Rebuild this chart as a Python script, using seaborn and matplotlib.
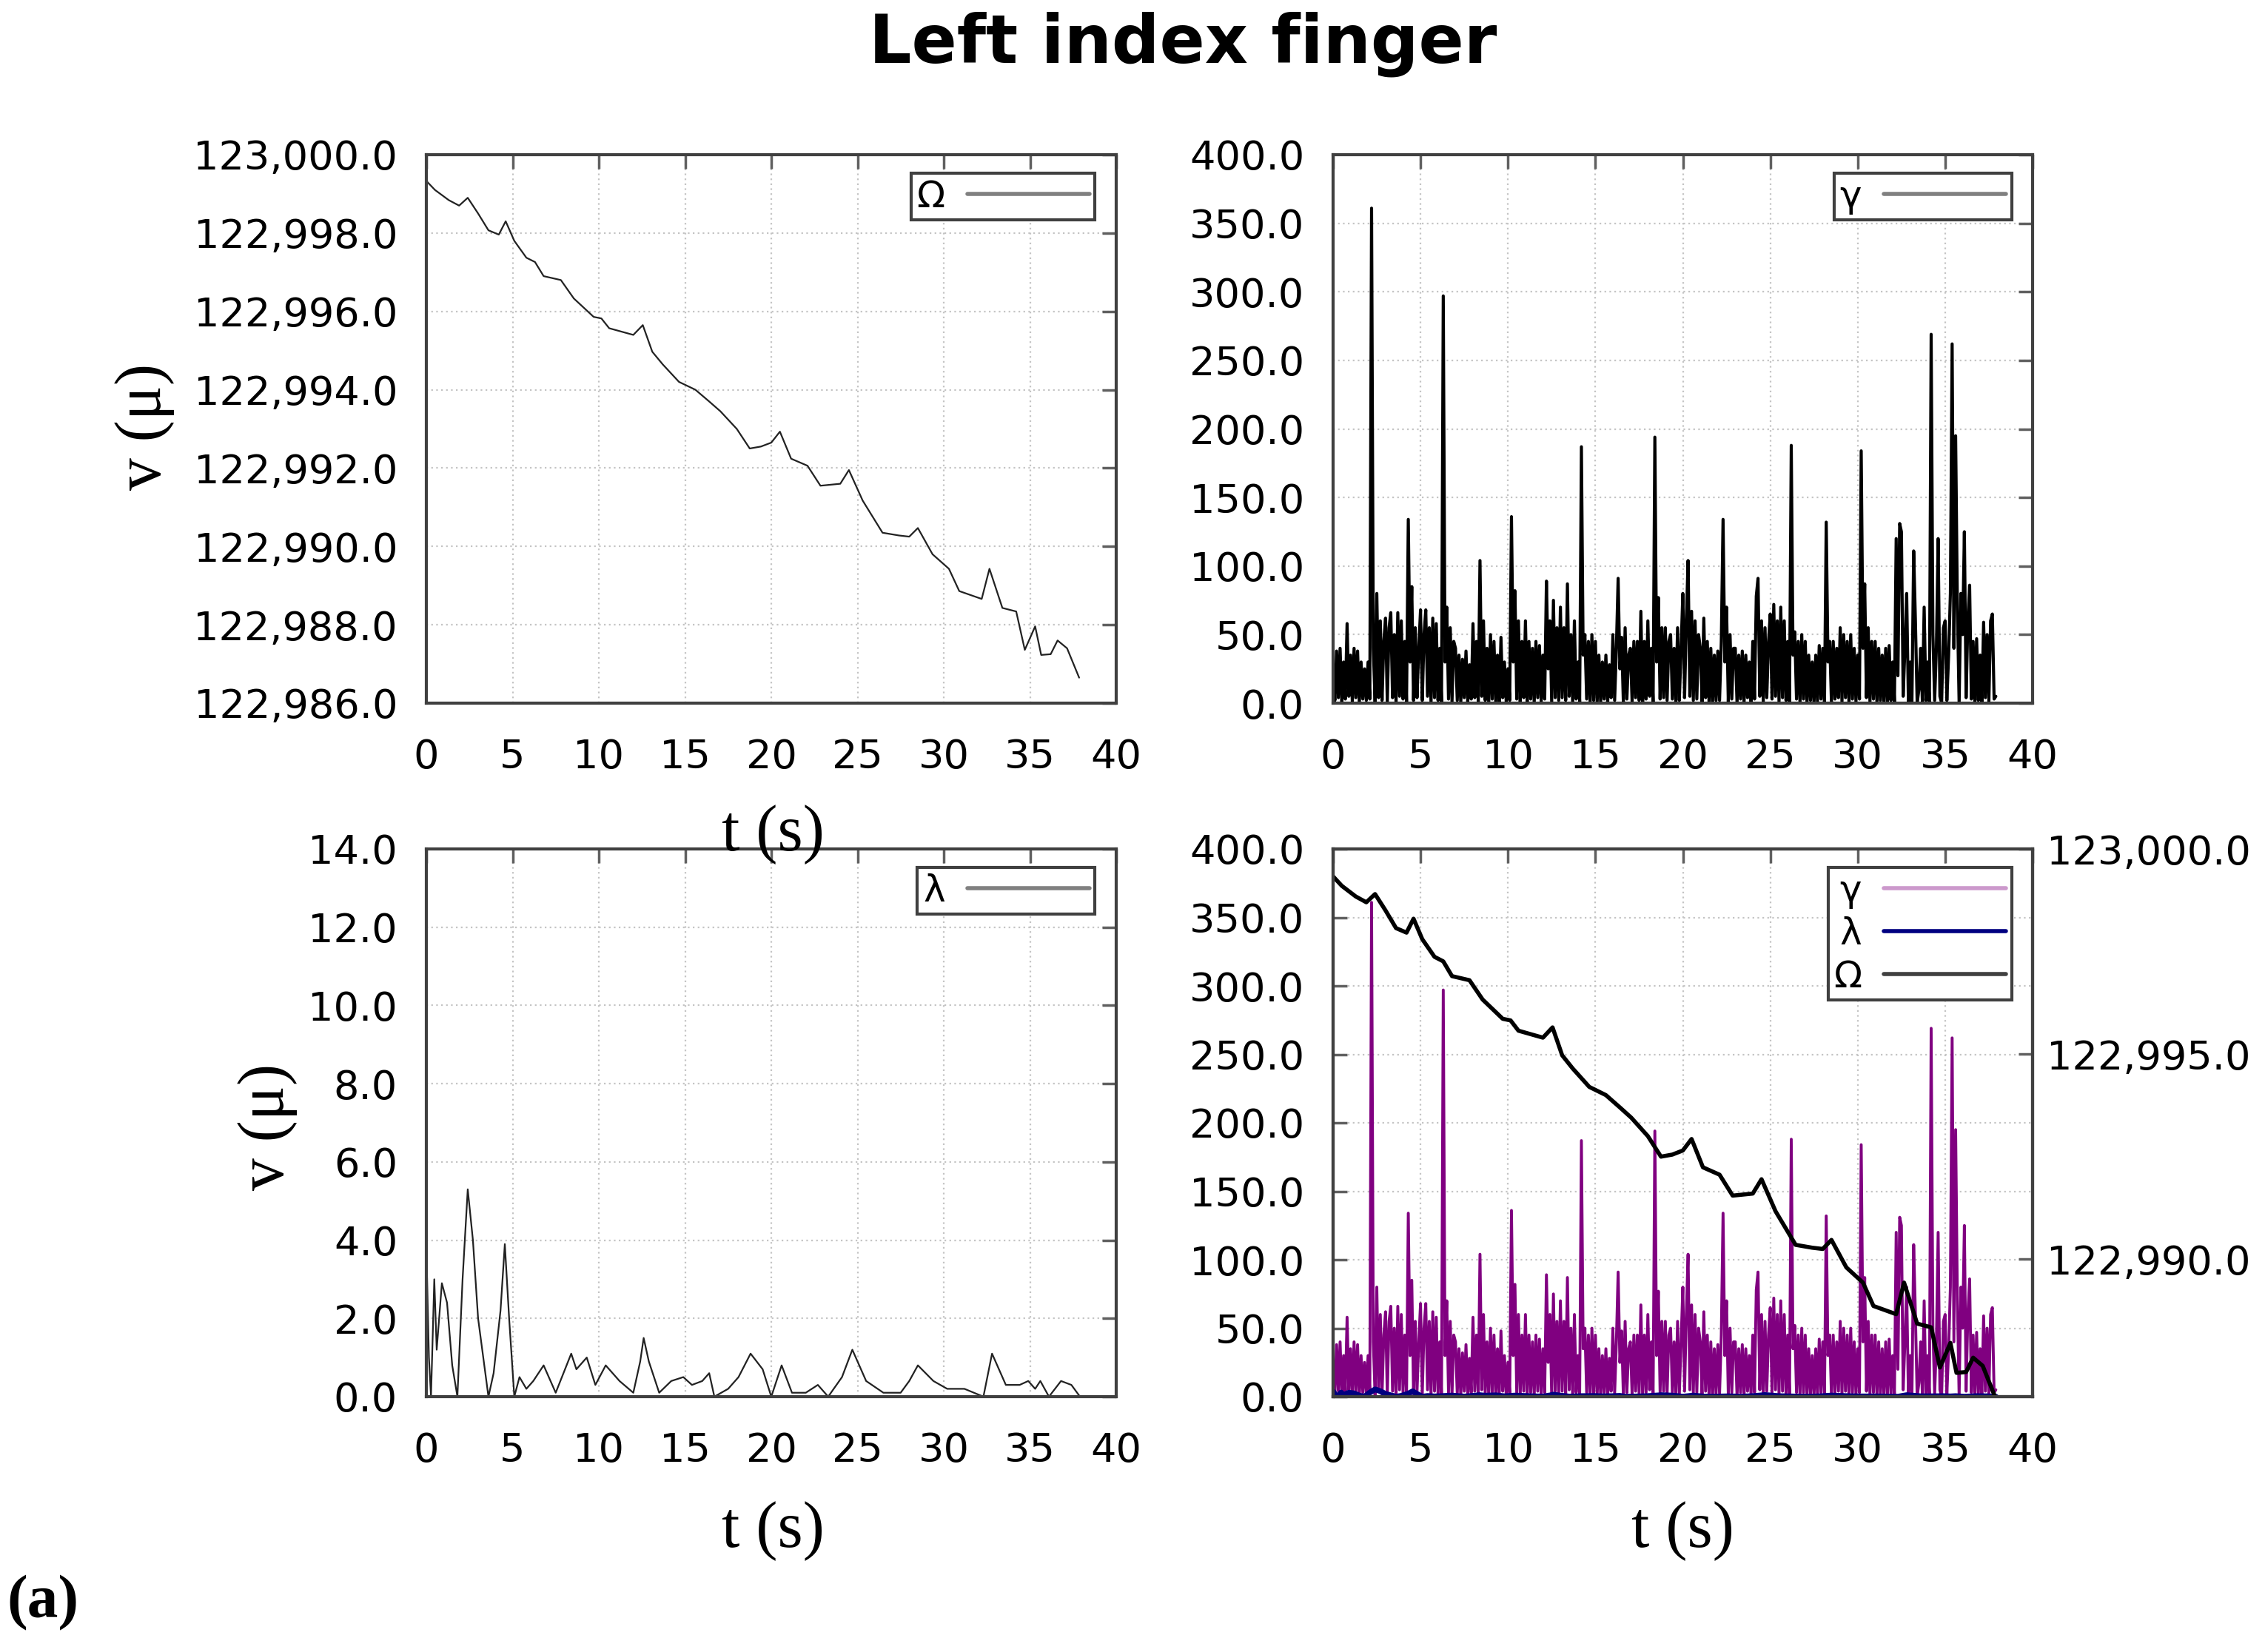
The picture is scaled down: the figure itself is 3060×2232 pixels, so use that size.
import numpy as np
import matplotlib
matplotlib.use("Agg")
import matplotlib.pyplot as plt
from matplotlib.lines import Line2D
from matplotlib.ticker import FuncFormatter
import seaborn as sns

# Omega (top-left / right axis of bottom-right)
omega_t = [0.0, 0.5, 1.3, 1.9, 2.4, 3.0, 3.6, 4.2, 4.6, 5.1, 5.8, 6.3, 6.8, 7.8, 8.55,
           9.7, 10.15, 10.6, 12.0, 12.55, 13.1, 13.7, 14.65, 15.6, 16.4, 17.05, 18.0,
           18.75, 19.4, 20.0, 20.5, 21.15, 22.1, 22.85, 24.0, 24.5, 25.3, 26.45, 27.4,
           28.0, 28.5, 29.35, 30.3, 30.9, 32.2, 32.65, 33.4, 34.2, 34.7, 35.3, 35.65,
           36.2, 36.6, 37.15, 37.85]
omega_v = [122999.33, 122999.1, 122998.84, 122998.7, 122998.9, 122998.5, 122998.07,
           122997.96, 122998.3, 122997.8, 122997.37, 122997.26, 122996.9, 122996.8,
           122996.33, 122995.86, 122995.82, 122995.57, 122995.4, 122995.65, 122994.97,
           122994.65, 122994.2, 122994.0, 122993.7, 122993.45, 122993.0, 122992.5,
           122992.55, 122992.65, 122992.93, 122992.24, 122992.06, 122991.55, 122991.6,
           122991.95, 122991.17, 122990.35, 122990.28, 122990.25, 122990.47, 122989.8,
           122989.43, 122988.86, 122988.66, 122989.43, 122988.43, 122988.34, 122987.36,
           122987.96, 122987.23, 122987.25, 122987.6, 122987.4, 122986.65]

# gamma sampled every 0.1 s (one row per second)
gamma_t = np.round(np.arange(0, 37.95, 0.1), 1)
gamma_v = [25, 2, 38, 4, 40, 0, 30, 3, 58, 5,
           35, 1, 40, 4, 38, 0, 30, 3, 25, 2,
           30, 3, 361, 40, 1, 80, 4, 60, 2, 45,
           62, 1, 55, 66, 4, 50, 0, 66, 5, 60,
           3, 45, 1, 134, 30, 85, 2, 55, 4, 40,
           68, 2, 50, 68, 5, 55, 0, 62, 4, 58,
           2, 40, 0, 297, 30, 70, 3, 55, 1, 45,
           40, 2, 35, 0, 32, 4, 38, 1, 28, 3,
           58, 4, 45, 1, 104, 5, 60, 2, 40, 0,
           50, 3, 45, 1, 35, 0, 48, 4, 30, 1,
           25, 2, 136, 30, 82, 3, 60, 1, 45, 4,
           60, 0, 45, 3, 40, 0, 45, 4, 42, 1,
           35, 3, 89, 25, 60, 1, 75, 4, 55, 2,
           70, 4, 55, 2, 87, 5, 50, 0, 60, 3,
           30, 1, 187, 35, 50, 3, 45, 0, 50, 2,
           45, 1, 35, 0, 30, 3, 35, 0, 28, 4,
           50, 2, 40, 91, 25, 48, 0, 55, 3, 35,
           40, 1, 45, 4, 45, 2, 67, 0, 45, 3,
           60, 5, 40, 1, 194, 30, 77, 3, 55, 4,
           55, 2, 45, 50, 3, 40, 0, 55, 2, 40,
           80, 4, 60, 104, 5, 67, 2, 60, 3, 50,
           40, 1, 62, 4, 45, 0, 40, 0, 35, 2,
           38, 2, 45, 134, 30, 70, 1, 50, 3, 40,
           40, 0, 35, 3, 38, 0, 35, 4, 30, 1,
           45, 3, 78, 91, 5, 60, 1, 55, 4, 45,
           65, 3, 72, 5, 60, 1, 70, 4, 60, 2,
           45, 1, 188, 35, 52, 3, 45, 0, 50, 3,
           45, 0, 35, 2, 30, 0, 35, 1, 42, 3,
           40, 1, 132, 30, 45, 0, 45, 3, 40, 4,
           55, 1, 50, 4, 45, 0, 50, 3, 40, 1,
           35, 3, 184, 40, 87, 4, 55, 1, 45, 3,
           45, 0, 40, 2, 35, 0, 40, 1, 42, 2,
           30, 1, 120, 20, 131, 125, 5, 40, 80, 0,
           30, 0, 111, 60, 0, 10, 40, 0, 70, 2,
           30, 0, 269, 50, 2, 40, 120, 5, 0, 55,
           60, 2, 35, 80, 262, 40, 195, 70, 0, 80,
           50, 125, 4, 60, 86, 3, 45, 0, 47, 2,
           35, 0, 59, 4, 50, 1, 60, 65, 3, 5]

# lambda
lam_t = [0.0, 0.15, 0.27, 0.46, 0.6, 0.9, 1.2, 1.5, 1.8, 2.1, 2.4, 2.7, 3.0, 3.6, 3.9,
         4.3, 4.55, 4.8, 5.1, 5.4, 5.8, 6.2, 6.8, 7.5, 8.4, 8.7, 9.3, 9.8, 10.4, 11.2,
         12.0, 12.4, 12.6, 12.9, 13.5, 14.2, 14.9, 15.4, 16.0, 16.4, 16.7, 17.5, 18.1,
         18.8, 19.5, 20.0, 20.6, 21.2, 22.0, 22.7, 23.3, 24.1, 24.7, 25.5, 26.5, 27.5,
         28.0, 28.5, 29.4, 30.2, 31.2, 32.3, 32.8, 33.6, 34.4, 34.9, 35.3, 35.6, 36.1,
         36.8, 37.4, 37.9]
lam_v = [3.8, 1.0, 0.0, 3.0, 1.2, 2.9, 2.4, 0.8, 0.0, 3.0, 5.3, 4.0, 2.0, 0.0, 0.6,
         2.2, 3.9, 2.0, 0.0, 0.5, 0.2, 0.4, 0.8, 0.1, 1.1, 0.7, 1.0, 0.3, 0.8, 0.4,
         0.1, 0.9, 1.5, 0.9, 0.1, 0.4, 0.5, 0.3, 0.4, 0.6, 0.0, 0.2, 0.5,
         1.1, 0.7, 0.0, 0.8, 0.1, 0.1, 0.3, 0.0, 0.5, 1.2, 0.4, 0.1, 0.1,
         0.4, 0.8, 0.4, 0.2, 0.2, 0.0, 1.1, 0.3, 0.3, 0.4, 0.2, 0.4, 0.0,
         0.4, 0.3, 0.0]

sns.set_style("white")
plt.rcParams["font.family"] = ["DejaVu Sans"]
plt.rcParams["text.color"] = "black"

W, H = 3060, 2232
fig = plt.figure(figsize=(W / 100, H / 100), dpi=100)

def box(x0, y0, x1, y1):
    return [x0 / W, 1 - y1 / H, (x1 - x0) / W, (y1 - y0) / H]

SPINE = "#404040"
TICK = 39
SERIF = ["Liberation Serif", "DejaVu Serif"]

def style(ax, yticks, fmt, right=True):
    ax.set_xlim(0, 40)
    ax.set_xticks(range(0, 41, 5))
    ax.set_yticks(yticks)
    ax.yaxis.set_major_formatter(FuncFormatter(lambda v, p: fmt.format(v)))
    for s in ax.spines.values():
        s.set_color(SPINE)
        s.set_linewidth(3)
    ax.tick_params(axis="both", direction="in", length=14, width=2.5, color="#606060",
                   labelsize=TICK, labelcolor="black", top=True, right=right)
    ax.tick_params(axis="x", pad=34)
    ax.tick_params(axis="y", pad=28)
    ax.grid(True, color="#c4c4c4", linestyle=(0, (1, 2)), linewidth=1.6)
    ax.set_xlabel("")
    ax.set_ylabel("")

def add_legend(ax, handles, labels, anchor, spacing=0.3):
    leg = ax.legend(handles, labels, loc="upper right", bbox_to_anchor=anchor,
                    markerfirst=False, frameon=True, fancybox=False, framealpha=1,
                    edgecolor=SPINE, fontsize=36, handlelength=3.3, borderpad=0.15,
                    borderaxespad=0, handletextpad=0.6, labelspacing=spacing)
    leg.get_frame().set_linewidth(3)

# top-left: Omega
ax1 = fig.add_axes(box(576, 209, 1508, 950))
sns.lineplot(x=omega_t, y=omega_v, ax=ax1, color="#222222", lw=1.6, sort=False)
ax1.set_ylim(122986, 123000)
style(ax1, np.arange(122986, 123000.1, 2), "{:,.1f}")
add_legend(ax1, [Line2D([], [], color="#808080", lw=4)], ["Ω"], (0.969, 0.966))

# top-right: gamma
ax2 = fig.add_axes(box(1801, 209, 2746, 950))
sns.lineplot(x=gamma_t, y=gamma_v, ax=ax2, color="black", lw=3.0, sort=False)
ax2.set_ylim(0, 400)
style(ax2, range(0, 401, 50), "{:.1f}")
add_legend(ax2, [Line2D([], [], color="#808080", lw=4)], ["γ"], (0.97, 0.966))

# bottom-left: lambda
ax3 = fig.add_axes(box(576, 1147, 1508, 1887))
sns.lineplot(x=lam_t, y=lam_v, ax=ax3, color="#222222", lw=1.6, sort=False)
ax3.set_ylim(0, 14)
style(ax3, range(0, 15, 2), "{:.1f}")
add_legend(ax3, [Line2D([], [], color="#808080", lw=4)], ["λ"], (0.969, 0.966))

# bottom-right: all three
ax4 = fig.add_axes(box(1801, 1147, 2746, 1887))
sns.lineplot(x=gamma_t, y=gamma_v, ax=ax4, color="#800080", lw=2.8, sort=False)
sns.lineplot(x=lam_t, y=lam_v, ax=ax4, color="#000080", lw=5.5, sort=False)
ax4.set_ylim(0, 400)
style(ax4, range(0, 401, 50), "{:.1f}", right=False)
ax4b = ax4.twinx()
sns.lineplot(x=omega_t, y=omega_v, ax=ax4b, color="black", lw=4, sort=False)
ax4b.set_ylim(min(omega_v), 123000)
ax4b.set_yticks([122990, 122995, 123000])
ax4b.yaxis.set_major_formatter(FuncFormatter(lambda v, p: "{:,.1f}".format(v)))
ax4b.tick_params(axis="y", direction="in", length=14, width=2.5, color="#606060",
                 labelsize=TICK, labelcolor="black", pad=14)
ax4b.set_ylabel("")
for s in ax4b.spines.values():
    s.set_color(SPINE)
    s.set_linewidth(3)
ax4b.grid(False)
add_legend(ax4b,
           [Line2D([], [], color="#cc99cc", lw=4), Line2D([], [], color="#000080", lw=4),
            Line2D([], [], color="#404040", lw=4)],
           ["γ", "λ", "Ω"], (0.97, 0.966), spacing=0.2)

# texts
fig.text(1598 / W, 1 - 60 / H, "Left index finger", ha="center", va="center",
         fontsize=65, fontweight="bold")
lab = dict(family=SERIF, fontsize=63, ha="center", va="center")
fig.text(1044 / W, 1 - 1128 / H, "t (s)", **lab)
fig.text(1044 / W, 1 - 2069 / H, "t (s)", **lab)
fig.text(2273 / W, 1 - 2069 / H, "t (s)", **lab)
fig.text(195 / W, 1 - 576 / H, "v (μ)", rotation=90, **lab)
fig.text(361 / W, 1 - 1522 / H, "v (μ)", rotation=90, **lab)
fig.text(58 / W, 1 - 2166 / H, "(a)", family=SERIF, fontsize=60, fontweight="bold",
         ha="center", va="center")

fig.savefig("out.png", dpi=100)
